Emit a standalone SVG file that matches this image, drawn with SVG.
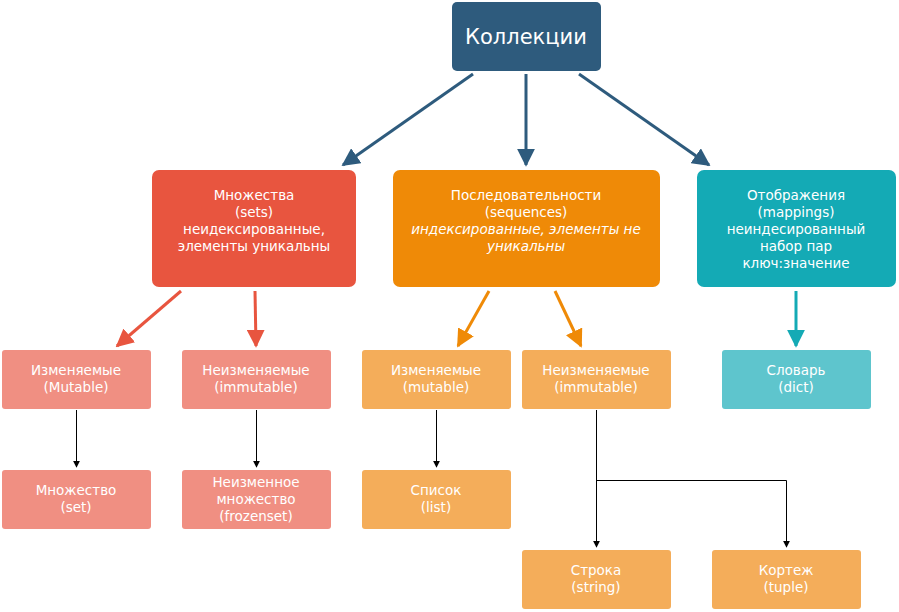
<svg xmlns="http://www.w3.org/2000/svg" width="899" height="612" viewBox="0 0 899 612">
<defs>
<style>
text{font-family:"DejaVu Sans","Noto Sans",sans-serif;fill:#fff;text-anchor:middle;font-size:13.5px}
.t{font-size:21px}
.i{font-style:italic}
.blue{stroke:#2e5b7d;stroke-width:3;fill:none}
.red{stroke:#e8553f;stroke-width:3;fill:none}
.org{stroke:#ef8a07;stroke-width:3;fill:none}
.teal{stroke:#14aab5;stroke-width:3;fill:none}
.blk{stroke:#000;stroke-width:1;fill:none}
</style>
<marker id="ab" viewBox="0 0 10 10" refX="9" refY="5" markerWidth="6" markerHeight="6" orient="auto" markerUnits="strokeWidth"><path d="M0,0L10,5L0,10z" fill="#2e5b7d"/></marker>
<marker id="ar" viewBox="0 0 10 10" refX="9" refY="5" markerWidth="6" markerHeight="6" orient="auto" markerUnits="strokeWidth"><path d="M0,0L10,5L0,10z" fill="#e8553f"/></marker>
<marker id="ao" viewBox="0 0 10 10" refX="9" refY="5" markerWidth="6" markerHeight="6" orient="auto" markerUnits="strokeWidth"><path d="M0,0L10,5L0,10z" fill="#ef8a07"/></marker>
<marker id="at" viewBox="0 0 10 10" refX="9" refY="5" markerWidth="6" markerHeight="6" orient="auto" markerUnits="strokeWidth"><path d="M0,0L10,5L0,10z" fill="#14aab5"/></marker>
<marker id="ak" viewBox="0 0 10 10" refX="9" refY="5" markerWidth="7" markerHeight="7" orient="auto" markerUnits="userSpaceOnUse"><path d="M0,0L10,5L0,10z" fill="#000"/></marker>
</defs>
<g id="connectors">
<line class="blue" x1="473" y1="74" x2="343" y2="165" marker-end="url(#ab)"/>
<line class="blue" x1="526" y1="74" x2="526" y2="165" marker-end="url(#ab)"/>
<line class="blue" x1="579" y1="74" x2="709" y2="165" marker-end="url(#ab)"/>
<line class="red" x1="181" y1="291" x2="117" y2="346" marker-end="url(#ar)"/>
<line class="red" x1="255" y1="291" x2="256" y2="346" marker-end="url(#ar)"/>
<line class="org" x1="489" y1="291" x2="458" y2="346" marker-end="url(#ao)"/>
<line class="org" x1="555" y1="291" x2="581" y2="346" marker-end="url(#ao)"/>
<line class="teal" x1="796" y1="291" x2="796" y2="346" marker-end="url(#at)"/>
<line class="blk" x1="76.5" y1="410" x2="76.5" y2="467" marker-end="url(#ak)"/>
<line class="blk" x1="256.5" y1="410" x2="256.5" y2="467" marker-end="url(#ak)"/>
<line class="blk" x1="436.5" y1="410" x2="436.5" y2="467" marker-end="url(#ak)"/>
<polyline class="blk" points="596.5,410 596.5,480.5 786.5,480.5 786.5,547" marker-end="url(#ak)"/>
<line class="blk" x1="596.5" y1="480" x2="596.5" y2="547" marker-end="url(#ak)"/>
</g>
<g id="root"><rect x="452" y="2" width="149" height="69" rx="5" fill="#2e5b7d"/><text class="t" x="526" y="44">Коллекции</text></g>
<g id="sets"><rect x="152" y="170" width="204" height="117" rx="7" fill="#e8553f"/>
<text x="254" y="200">Множества</text><text x="254" y="217">(sets)</text><text x="254" y="234">неидексированные,</text><text x="254" y="251">элементы уникальны</text></g>
<g id="sequences"><rect x="393" y="170" width="267" height="117" rx="7" fill="#ef8a07"/>
<text x="526" y="200">Последовательности</text><text x="526" y="217">(sequences)</text><text class="i" x="526" y="234">индексированные, элементы не</text><text class="i" x="526" y="251">уникальны</text></g>
<g id="mappings"><rect x="697" y="170" width="199" height="117" rx="7" fill="#14aab5"/>
<text x="796" y="200">Отображения</text><text x="796" y="217">(mappings)</text><text x="796" y="234">неиндесированный</text><text x="796" y="251">набор пар</text><text x="796" y="268">ключ:значение</text></g>
<g id="set-mut"><rect x="2" y="350" width="149" height="59" rx="3" fill="#f08f82"/><text x="76" y="375">Изменяемые</text><text x="76" y="392">(Mutable)</text></g>
<g id="set-imm"><rect x="182" y="350" width="149" height="59" rx="3" fill="#f08f82"/><text x="256" y="375">Неизменяемые</text><text x="256" y="392">(immutable)</text></g>
<g id="seq-mut"><rect x="362" y="350" width="149" height="59" rx="3" fill="#f4ad5a"/><text x="436" y="375">Изменяемые</text><text x="436" y="392">(mutable)</text></g>
<g id="seq-imm"><rect x="522" y="350" width="149" height="59" rx="3" fill="#f4ad5a"/><text x="596" y="375">Неизменяемые</text><text x="596" y="392">(immutable)</text></g>
<g id="dict"><rect x="722" y="350" width="149" height="59" rx="3" fill="#5ec5cd"/><text x="796" y="375">Словарь</text><text x="796" y="392">(dict)</text></g>
<g id="set"><rect x="2" y="470" width="149" height="59" rx="3" fill="#f08f82"/><text x="76" y="495">Множество</text><text x="76" y="512">(set)</text></g>
<g id="frozenset"><rect x="182" y="470" width="149" height="59" rx="3" fill="#f08f82"/><text x="256" y="487">Неизменное</text><text x="256" y="504">множество</text><text x="256" y="521">(frozenset)</text></g>
<g id="list"><rect x="362" y="470" width="149" height="59" rx="3" fill="#f4ad5a"/><text x="436" y="495">Список</text><text x="436" y="512">(list)</text></g>
<g id="string"><rect x="522" y="550" width="149" height="59" rx="3" fill="#f4ad5a"/><text x="596" y="575">Строка</text><text x="596" y="592">(string)</text></g>
<g id="tuple"><rect x="712" y="550" width="149" height="59" rx="3" fill="#f4ad5a"/><text x="786" y="575">Кортеж</text><text x="786" y="592">(tuple)</text></g>
</svg>
